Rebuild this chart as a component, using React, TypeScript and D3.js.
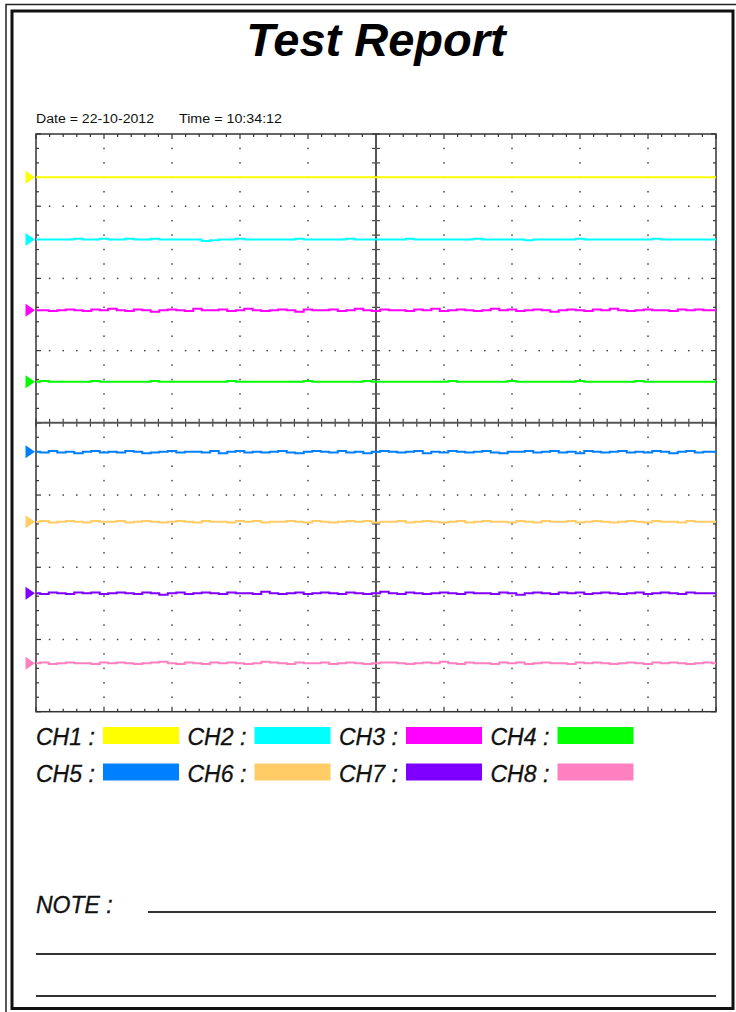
import React from "react";
import * as d3 from "d3";

const W = 736;
const H = 1012;

const xDomain: [number, number] = [0, 10];
const yDomain: [number, number] = [-4, 4];

const titleText = "Test Report";
const dateText = "Date = 22-10-2012";
const timeText = "Time = 10:34:12";
const noteLabel = "NOTE :";

const channelNames = ["CH1", "CH2", "CH3", "CH4", "CH5", "CH6", "CH7", "CH8"];
const channelColors = ["#ffff00", "#00ffff", "#ff00ff", "#00ff00", "#0080ff", "#ffcc66", "#8000ff", "#ff80c0"];
const channelLevels = [3.4, 2.54, 1.56, 0.57, -0.4, -1.37, -2.36, -3.33];

// trace deviations, hundredths of a division
const ch1Trace = [0, 0, 0, 0, 0, 0, 0, 0, 0, 0, 0];
const ch2Trace = [0, 0, 0, 0, 0, 1, 0, 0, 1, 0, 0, 1, 0, 0, 1, 0, 0, 0, 0, 0, -2, -1, 0, 0, 1, 0, 0, 0, 0, 0, 0, 1, 0, 0, 0, 0, 0, 1, 0, 0, 0, 0, 0, 0, 1, 0, 0, 0, 0, 0, 0, 0, 1, 0, 0, 0, 0, 0, -1, 0, 0, 0, 0, 0, 1, 0, 0, 0, 0, 0, 0, 0, 0, 1, 0, 0, 0, 0, 0, 0, 0];
const ch3Trace = [0, 0, -1, 0, 1, 0, -1, 1, 0, 2, 0, -1, 1, 0, -2, 0, 1, 0, -1, 2, 0, 0, 1, -1, 0, 2, 0, -1, 0, 1, 0, -2, 1, 0, 0, 1, -1, 0, 2, 0, -1, 1, 0, 0, -1, 1, 0, 2, -1, 0, 1, 0, -1, 0, 2, 0, 1, -1, 0, 1, 0, -2, 0, 1, 0, -1, 1, 0, 2, 0, -1, 0, 1, 0, 0, -1, 1, 0, 1, 0, 0];
const ch4Trace = [0, 1, 0, 0, 0, 0, 0, 1, 0, 0, 0, 0, 0, 0, 1, 0, 0, 0, 0, 0, 0, 0, 0, 1, 0, 0, 0, 0, 0, 0, 0, 0, 1, 0, 0, 0, 0, 0, 0, 1, 0, 0, 0, 0, 0, 0, 0, 0, 0, 1, 0, 0, 0, 0, 0, 0, 1, 0, 0, 0, 0, 0, 0, 0, 1, 0, 0, 0, 0, 0, 0, 1, 0, 0, 0, 0, 0, 0, 0, 0, 0];
const ch5Trace = [0, -1, 1, -1, 0, -2, 0, 1, -1, 0, -1, 1, 0, -2, -1, 0, 1, -1, 0, 0, -1, 1, -2, 0, 1, -1, 0, -1, 0, 1, -1, -2, 0, 1, 0, -1, 1, -1, 0, -2, 0, 1, 0, -1, 0, 1, -2, 0, -1, 1, 0, -1, 0, 1, -1, -2, 0, 0, 1, -1, 0, 1, -1, 0, -2, 1, 0, -1, 0, 1, -1, 0, -1, 1, 0, -2, 0, 1, -1, 0, 0];
const ch6Trace = [0, 1, -1, 0, 1, 0, -1, 1, 0, 0, 1, -1, 0, 1, 0, -1, 0, 1, 0, -1, 1, 0, 0, -1, 1, 0, 1, -1, 0, 0, 1, 0, -1, 1, 0, -1, 0, 1, 0, 1, -1, 0, 0, 1, -1, 0, 1, 0, -1, 0, 1, -1, 0, 1, 0, 0, -1, 1, 0, -1, 1, 0, 0, 1, -1, 0, 1, 0, -1, 0, 1, 0, -1, 1, 0, 0, -1, 1, 0, 0, 0];
const ch7Trace = [0, -1, 1, 0, -1, 1, 0, 1, -1, 0, 1, 0, -1, 1, 0, -2, 0, 1, -1, 0, 1, 0, -1, 1, 0, 0, -1, 2, 0, -1, 0, 1, -1, 0, 1, 0, -1, 1, 0, -1, 0, 2, 0, -1, 1, 0, -1, 0, 1, 0, -1, 1, 0, 0, -1, 1, 0, -2, 0, 1, 0, -1, 1, 0, 1, -1, 0, 1, 0, -1, 0, 1, -1, 0, 1, 0, -1, 1, 0, 0, 0];
const ch8Trace = [0, 1, -1, 0, 1, 0, 0, -1, 1, 0, 1, 0, -1, 0, 1, 2, 0, -1, 1, 0, -1, 1, 0, 1, 0, -1, 0, 2, 1, 0, -1, 1, 0, 0, 1, -1, 0, 1, 0, -1, 0, 1, 1, 0, -1, 0, 1, 0, 2, 0, -1, 1, 0, 0, -1, 1, 0, 1, -1, 0, 1, 0, 0, -1, 1, 0, 1, 0, -1, 0, 1, 0, -1, 1, 0, 1, 0, -1, 0, 1, 0];
const channelTraces = [ch1Trace, ch2Trace, ch3Trace, ch4Trace, ch5Trace, ch6Trace, ch7Trace, ch8Trace];

const PL = 36, PR = 716, PT = 134, PB = 711.7;
const FONT = "'Liberation Sans', Arial, sans-serif";

export default function App() {
  const x = d3.scaleLinear().domain(xDomain).range([PL, PR]);
  const y = d3.scaleLinear().domain(yDomain).range([PB, PT]);

  const xMinor = d3.range(0, 50 + 1).map((i) => i / 5);
  const yMinor = d3.range(0, 40 + 1).map((i) => -4 + i / 5);
  const xMajor = d3.range(1, 10).filter((v) => v !== 5);
  const yMajor = d3.range(-3, 4).filter((v) => v !== 0);

  const dots: JSX.Element[] = [];
  xMajor.forEach((gx) => {
    yMinor.forEach((gy, j) => {
      if (j === 0 || j === yMinor.length - 1) return;
      dots.push(<rect key={`vx${gx}-${j}`} x={x(gx) - 0.75} y={y(gy) - 0.75} width={1.5} height={1.5} fill="#444" />);
    });
  });
  yMajor.forEach((gy) => {
    xMinor.forEach((gx, j) => {
      if (j === 0 || j === xMinor.length - 1 || j % 5 === 0) return;
      dots.push(<rect key={`hy${gy}-${j}`} x={x(gx) - 0.75} y={y(gy) - 0.75} width={1.5} height={1.5} fill="#444" />);
    });
  });

  const ticks: JSX.Element[] = [];
  xMinor.forEach((gx, j) => {
    const len = j % 5 === 0 ? 5 : 3;
    ticks.push(<line key={`tt${j}`} x1={x(gx)} x2={x(gx)} y1={PT} y2={PT + len} stroke="#333" strokeWidth={1.2} />);
    ticks.push(<line key={`tb${j}`} x1={x(gx)} x2={x(gx)} y1={PB} y2={PB - len} stroke="#333" strokeWidth={1.2} />);
    ticks.push(<line key={`tc${j}`} x1={x(gx)} x2={x(gx)} y1={y(0) - 4} y2={y(0) + 4} stroke="#444" strokeWidth={1.2} />);
  });
  yMinor.forEach((gy, j) => {
    const len = j % 5 === 0 ? 5 : 3;
    ticks.push(<line key={`tl${j}`} x1={PL} x2={PL + len} y1={y(gy)} y2={y(gy)} stroke="#333" strokeWidth={1.2} />);
    ticks.push(<line key={`tr${j}`} x1={PR} x2={PR - len} y1={y(gy)} y2={y(gy)} stroke="#333" strokeWidth={1.2} />);
    ticks.push(<line key={`tm${j}`} x1={x(5) - 4} x2={x(5) + 4} y1={y(gy)} y2={y(gy)} stroke="#444" strokeWidth={1.2} />);
  });

  const traces = channelTraces.map((tr, i) => {
    const xs = d3.scaleLinear().domain([0, tr.length - 1]).range(xDomain);
    const line = d3
      .line<number>()
      .x((_, k) => x(xs(k)))
      .y((v) => y(channelLevels[i] + v / 100))
      .curve(d3.curveStep);
    return <path key={`tr${i}`} d={line(tr) || ""} fill="none" stroke={channelColors[i]} strokeWidth={2} />;
  });

  const markers = channelLevels.map((lv, i) => {
    const cy = y(lv);
    return <path key={`mk${i}`} d={`M25.5,${cy - 6.5} L35,${cy} L25.5,${cy + 6.5} Z`} fill={channelColors[i]} />;
  });

  const legend = channelNames.map((name, i) => {
    const col = i % 4;
    const row = Math.floor(i / 4);
    const lx = 36 + col * 151.5;
    const ly = 727 + row * 36.5;
    return (
      <g key={`lg${i}`}>
        <text x={lx} y={ly + 18} fontFamily={FONT} fontStyle="italic" fontSize={23} fill="#111" stroke="#111" strokeWidth={0.3}>
          {name + " :"}
        </text>
        <rect x={lx + 67} y={ly} width={76} height={17} fill={channelColors[i]} />
      </g>
    );
  });

  return (
    <div style={{ position: "absolute", left: 0, top: 0 }}>
      <svg width={W} height={H} style={{ display: "block", background: "#fff" }}>
        <rect x={0} y={0} width={W} height={H} fill="#fff" />
        <rect x={6} y={4.5} width={732} height={1012} fill="none" stroke="#222" strokeWidth={1.5} />
        <rect x={12} y={11} width={721} height={997.5} fill="none" stroke="#111" strokeWidth={3} />

        <text x={376} y={56} textAnchor="middle" fontFamily={FONT} fontWeight="bold" fontStyle="italic" fontSize={47} fill="#000">
          {titleText}
        </text>

        <text x={36} y={123} fontFamily={FONT} fontSize={12} fill="#111" textLength={118} lengthAdjust="spacingAndGlyphs">
          {dateText}
        </text>
        <text x={179} y={123} fontFamily={FONT} fontSize={12} fill="#111" textLength={103} lengthAdjust="spacingAndGlyphs">
          {timeText}
        </text>

        {dots}
        {ticks}
        <line x1={x(5)} x2={x(5)} y1={PT} y2={PB} stroke="#555" strokeWidth={2} />
        <line x1={PL} x2={PR} y1={y(0)} y2={y(0)} stroke="#555" strokeWidth={2} />
        <rect x={PL} y={PT} width={PR - PL} height={PB - PT} fill="none" stroke="#333" strokeWidth={1.5} />

        {traces}
        {markers}
        {legend}

        <text x={36} y={913} fontFamily={FONT} fontStyle="italic" fontSize={23} fill="#111" stroke="#111" strokeWidth={0.3}>
          {noteLabel}
        </text>
        <line x1={148} x2={716} y1={912} y2={912} stroke="#333" strokeWidth={2} />
        <line x1={36} x2={716} y1={954} y2={954} stroke="#333" strokeWidth={2} />
        <line x1={36} x2={716} y1={996} y2={996} stroke="#333" strokeWidth={2} />
      </svg>
    </div>
  );
}
